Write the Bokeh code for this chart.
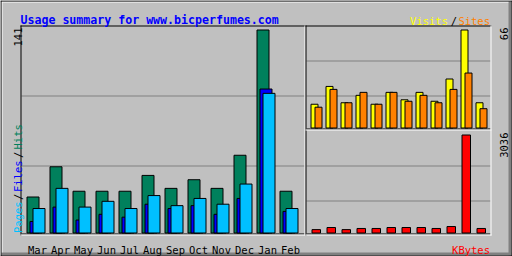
import math
from bokeh.plotting import figure
from bokeh.models import Range1d, ColumnDataSource
from bokeh.transform import dodge
from bokeh.core.properties import value
from bokeh.embed import file_html
from bokeh.resources import INLINE

# ---------------- data ----------------
title = "Usage summary for www.bicperfumes.com"
months = ["Mar", "Apr", "May", "Jun", "Jul", "Aug", "Sep", "Oct", "Nov", "Dec", "Jan", "Feb"]
hits = [25, 46, 29, 29, 29, 40, 31, 37, 31, 54, 141, 29]
files = [8, 18, 9, 13, 11, 20, 17, 19, 13, 24, 100, 15]
pages = [17, 31, 18, 22, 17, 26, 19, 24, 20, 34, 97, 17]
visits = [16, 28, 17, 22, 16, 24, 19, 24, 18, 33, 66, 17]
sites = [14, 26, 17, 24, 16, 24, 18, 22, 17, 26, 37, 13]
kbytes = [105, 170, 105, 140, 140, 170, 170, 170, 140, 200, 3036, 140]

# ---------------- style ----------------
GREY = "#C0C0C0"
DKGREY = "#808080"
WHITE = "#FFFFFF"
BLACK = "#000000"
GREEN = "#00805C"
BLUE = "#0000FF"
LTBLUE = "#00C0FF"
ORANGE = "#FF8000"
YELLOW = "#FFFF00"
RED = "#FF0000"
FONT = value("DejaVu Sans Mono")
SMALL = "10.5px"

W, H = 512, 256

src = ColumnDataSource(dict(idx=list(range(len(months))), month=months, hits=hits, files=files,
                            pages=pages, visits=visits, sites=sites, kbytes=kbytes))

p = figure(width=W, height=H, x_range=Range1d(0, W), y_range=Range1d(H, 0),
           output_backend="svg", toolbar_location=None, min_border=0,
           x_axis_type=None, y_axis_type=None,
           background_fill_color=GREY, border_fill_color=GREY, outline_line_color=None)


def yr(base, h, m):
    return Range1d(start=(base - H) * m / h, end=base * m / h)


def xr(origin, step):
    return Range1d(start=-origin / step, end=(W - origin) / step)


p.extra_y_ranges = {"hits": yr(232.5, 203, max(hits)),
                    "vis": yr(127.5, 98, max(visits)),
                    "kb": yr(232.5, 98, max(kbytes))}
p.extra_x_ranges = {"lx": xr(26, 23), "rx": xr(310, 15)}


def hline(r, a, b, c):
    p.segment(x0=a, y0=r + 0.5, x1=b + 1, y1=r + 0.5, line_color=c, line_width=1)


def vline(col, a, b, c):
    p.segment(x0=col + 0.5, y0=a, x1=col + 0.5, y1=b + 1, line_color=c, line_width=1)


# outer frame
p.quad(left=508, right=511, top=1, bottom=255, fill_color=DKGREY, line_color=None)
p.quad(left=1, right=511, top=252, bottom=255, fill_color=DKGREY, line_color=None)
vline(1, 1, 251, WHITE)
hline(1, 1, 507, WHITE)
hline(0, 0, 511, BLACK)
hline(255, 0, 511, BLACK)
vline(0, 0, 255, BLACK)
vline(511, 0, 255, BLACK)

# grid lines
for r in (95, 165):
    hline(r, 21, 303, DKGREY)
for r in (60, 95, 165, 200):
    hline(r, 306, 489, DKGREY)

# bars: hits / files / pages
sl = 1 / 23
for field, off, col in (("hits", 6.5, GREEN), ("files", 9.5, BLUE), ("pages", 12.5, LTBLUE)):
    p.vbar(x=dodge("idx", off * sl), width=12 * sl, bottom=0, top=field, source=src,
           fill_color=col, line_color=BLACK, line_width=1,
           x_range_name="lx", y_range_name="hits")

sr = 1 / 15
for field, off, col in (("visits", 4, YELLOW), ("sites", 8, ORANGE)):
    p.vbar(x=dodge("idx", off * sr), width=7 * sr, bottom=0, top=field, source=src,
           fill_color=col, line_color=BLACK, line_width=1,
           x_range_name="rx", y_range_name="vis")

p.vbar(x=dodge("idx", 5.75 * sr), width=8.5 * sr, bottom=0, top="kbytes", source=src,
       fill_color=RED, line_color=BLACK, line_width=1,
       x_range_name="rx", y_range_name="kb")

# panel bevels
hline(25, 20, 304, BLACK)
vline(20, 25, 234, BLACK)
hline(233, 21, 303, BLACK)
vline(304, 25, 234, WHITE)
hline(234, 20, 304, WHITE)

hline(25, 305, 490, BLACK)
vline(305, 25, 234, BLACK)
hline(128, 306, 489, BLACK)
hline(129, 305, 490, WHITE)
hline(233, 306, 489, BLACK)
vline(490, 25, 234, WHITE)
hline(234, 305, 490, WHITE)


# texts
def txt(x, y, s, col, align="left", angle=0.0, size=SMALL, style="normal"):
    p.text(x=[x], y=[y], text=[s], text_color=col, text_align=align,
           text_baseline="alphabetic", angle=angle, text_font=FONT,
           text_font_size=size, text_font_style=style)


txt(20, 19.5, title, BLUE, size="11.6px", style="bold")
txt(447.5, 20.5, "Visits", YELLOW, align="right")
txt(453.3, 20.5, "/", BLACK, align="center")
txt(489.5, 20.5, "Sites", ORANGE, align="right")
txt(489.5, 249.5, "KBytes", RED, align="right")

p.text(x=dodge("idx", 11 * sl), y=249.5, text="month", source=src, x_range_name="lx",
       text_color=BLACK, text_align="center", text_baseline="alphabetic",
       text_font=FONT, text_font_size=SMALL)

up = math.pi / 2
txt(17.5, 27, str(max(hits)), BLACK, align="right", angle=up)
txt(503.5, 27, str(max(visits)), BLACK, align="right", angle=up)
txt(503.5, 132, str(max(kbytes)), BLACK, align="right", angle=up)

txt(17.5, 232.5, "Pages", LTBLUE, angle=up)
txt(17.5, 199.5, "/", BLACK, angle=up)
txt(17.5, 191.5, "Files", BLUE, angle=up)
txt(17.5, 157.5, "/", BLACK, angle=up)
txt(17.5, 149, "Hits", GREEN, angle=up)

open("out.html", "w").write(file_html(p, INLINE))
